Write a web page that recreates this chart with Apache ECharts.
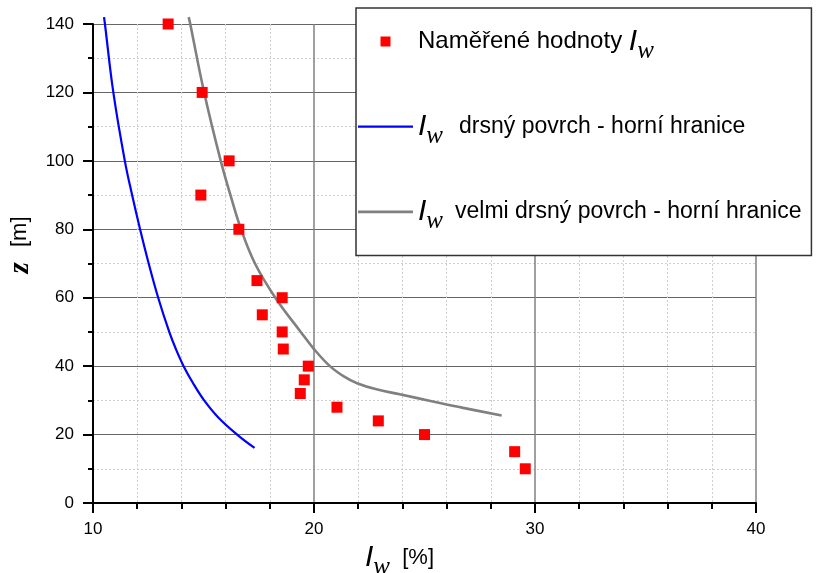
<!DOCTYPE html>
<html><head><meta charset="utf-8">
<script src="https://cdn.jsdelivr.net/npm/echarts@6/dist/echarts.min.js"></script>
<style>html,body{margin:0;padding:0;background:#fff;overflow:hidden}#c{width:819px;height:573px}</style>
</head><body><div id="c"></div>
<script>
// Measured values (x = Iw [%], y = z [m])
const measuredIw = [13.40,14.94,16.16,14.88,16.60,17.42,18.56,17.66,18.56,18.61,19.74,19.56,19.38,21.04,22.91,25.00,29.08,29.56];
const measuredZ  = [140,120,100,90,80,65,60,55,50,45,40,36,32,28,24,20,15,10];
// Rough surface - upper bound
const roughIw = [10.50,10.54,10.92,11.44,11.77,12.13,12.52,12.95,13.45,13.75,14.10,14.53,15.03,15.67,16.52,17.31];
const roughZ  = [142,140,120,100,90,80,70,60,50,45,40,35,30,25,20,16.1];
// Very rough surface - upper bound
const veryRoughIw = [14.33,14.40,15.03,15.78,16.22,16.70,17.33,18.25,19.40,20.00,20.72,21.35,21.95,22.78,23.93,25.22,26.75,28.49];
const veryRoughZ  = [142,140,120,100,90,80,70,60,50,45,40,37,35,33.3,31.7,29.9,27.8,25.6];

const seriesNames = ['Naměřené hodnoty Iw','Iw drsný povrch - horní hranice','Iw velmi drsný povrch - horní hranice'];
const legendTexts = ['Naměřené hodnoty ','drsný povrch - horní hranice','velmi drsný povrch - horní hranice'];
const xAxisRange = [10, 40], xAxisStep = 10;
const yAxisRange = [0, 140], yAxisStep = 20;

function pairs(xs, ys){ return xs.map((x,i)=>[x, ys[i]]); }

const FONT = 'Liberation Sans';
const richCommon = {
  t:  {fontSize:24, fontFamily:FONT, color:'#000'},
  t2: {fontSize:23, fontFamily:FONT, color:'#000', padding:[0,0,0,16]},
  t3: {fontSize:23, fontFamily:FONT, color:'#000', padding:[0,0,0,12]},
  i:  {fontSize:30, fontFamily:FONT, fontStyle:'italic', color:'#000'},
  w:  {fontSize:25, fontFamily:'Liberation Serif', fontStyle:'italic', color:'#000', padding:[20,0,0,0]}
};

const chart = echarts.init(document.getElementById('c'), null, {renderer:'canvas', width:819, height:573});
chart.setOption({
  animation:false,
  backgroundColor:'#fff',
  grid:{left:93, top:24, width:663, height:479, containLabel:false, outerBoundsMode:'none'},
  legend:{
    orient:'vertical', left:356, top:8,
    padding:[18.5,10,21,2], itemGap:47.7, itemWidth:55, itemHeight:10, itemTextGap:7,
    backgroundColor:'#fff', borderColor:'#333', borderWidth:1.5,
    data:[
      {name:seriesNames[0], icon:'path://M0 0H10V10H0Z'},
      {name:seriesNames[1], icon:'path://M0 0H55V2.2H0Z'},
      {name:seriesNames[2], icon:'path://M0 0H55V2.6H0Z'}
    ],
    formatter:function(n){
      if(n===seriesNames[0]) return '{t|'+legendTexts[0]+'}{i|I}{w|w}';
      if(n===seriesNames[1]) return '{i|I}{w|w}{t2|'+legendTexts[1]+'}';
      return '{i|I}{w|w}{t3|'+legendTexts[2]+'}';
    },
    textStyle:{rich:richCommon}
  },
  xAxis:{
    type:'value', min:xAxisRange[0], max:xAxisRange[1], interval:xAxisStep,
    axisLine:{show:true, onZero:false, lineStyle:{color:'#000', width:2}},
    axisTick:{show:true, length:10, lineStyle:{color:'#000', width:2}},
    minorTick:{show:true, splitNumber:5, length:6, lineStyle:{color:'#000', width:2}},
    axisLabel:{margin:18, fontSize:17, color:'#000', fontFamily:FONT},
    splitLine:{show:true, lineStyle:{color:'#808080', width:1.5}},
    minorSplitLine:{show:true, lineStyle:{color:'#cfcfcf', width:1, type:[2,2]}},
    name:'{i|I}{w|w}{t|  [%]}', nameLocation:'middle', nameGap:19,
    nameTextStyle:{padding:[0,50,0,0], rich:{
      i:{fontSize:30, fontFamily:FONT, fontStyle:'italic', color:'#000'},
      w:{fontSize:25, fontFamily:'Liberation Serif', fontStyle:'italic', color:'#000', padding:[20,0,0,0]},
      t:{fontSize:22, fontFamily:FONT, color:'#000'}
    }}
  },
  yAxis:{
    type:'value', min:yAxisRange[0], max:yAxisRange[1], interval:yAxisStep,
    axisLine:{show:true, onZero:false, lineStyle:{color:'#000', width:2}},
    axisTick:{show:true, length:10, lineStyle:{color:'#000', width:2}},
    minorTick:{show:true, splitNumber:2, length:5, lineStyle:{color:'#000', width:2}},
    axisLabel:{margin:19, fontSize:17, color:'#000', fontFamily:FONT},
    splitLine:{show:true, lineStyle:{color:'#666', width:1.2}},
    minorSplitLine:{show:true, lineStyle:{color:'#cfcfcf', width:1, type:[2,2]}},
    name:'{z|z}{m|  [m]}', nameLocation:'middle', nameRotate:90, nameGap:52,
    nameTextStyle:{padding:[0,0,0,37], rich:{
      z:{fontSize:29, fontFamily:'Liberation Serif', fontStyle:'italic', fontWeight:'bold', color:'#000'},
      m:{fontSize:22, fontFamily:FONT, color:'#000', padding:[0,0,0,3]}
    }}
  },
  series:[
    {name:seriesNames[1], type:'line', data:pairs(roughIw, roughZ), symbol:'none', smooth:0.4, clip:false,
     lineStyle:{color:'#0000ff', width:2.2}, itemStyle:{color:'#0000ff'}, z:2},
    {name:seriesNames[2], type:'line', data:pairs(veryRoughIw, veryRoughZ), symbol:'none', smooth:0.4, clip:false,
     lineStyle:{color:'#808080', width:2.6}, itemStyle:{color:'#808080'}, z:2},
    {name:seriesNames[0], type:'scatter', data:pairs(measuredIw, measuredZ), symbol:'rect', symbolSize:11,
     itemStyle:{color:'#ff0000', opacity:1}, z:3}
  ]
});
</script>
</body></html>
